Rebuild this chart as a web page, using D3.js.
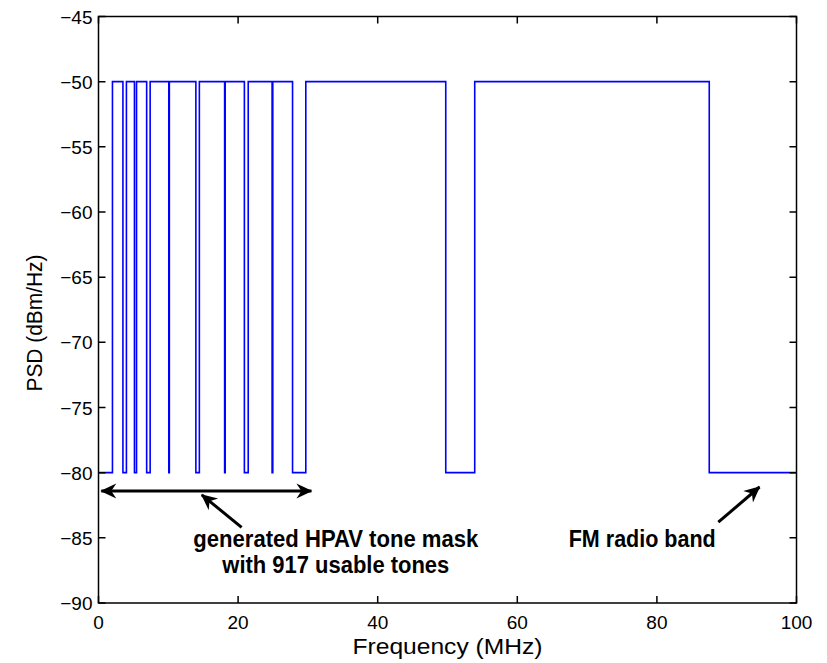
<!DOCTYPE html>
<html>
<head>
<meta charset="utf-8">
<script src="https://cdn.jsdelivr.net/npm/d3@7"></script>
<style>
  body { margin: 0; background: #fff; }
  text { font-family: "Liberation Sans", Arial, Helvetica, sans-serif; }
</style>
</head>
<body>
<div id="chart"></div>
<script>
var width = 827;
var height = 663;

// step edges of the PSD mask (MHz) and the level of each segment (dBm/Hz)
var freqEdges = [0, 2.0, 3.5, 4.0, 5.15, 5.45, 6.9, 7.4, 10.07, 10.15, 13.95, 14.45,
    18.07, 18.15, 20.9, 21.45, 24.87, 24.97, 27.8, 29.7, 49.75, 53.9, 87.5, 100];
var psdLevels = [-80, -50, -80, -50, -80, -50, -80, -50, -80, -50, -80, -50,
    -80, -50, -80, -50, -80, -50, -80, -50, -80, -50, -80];

var xTicks = [0, 20, 40, 60, 80, 100];
var yTicks = [-45, -50, -55, -60, -65, -70, -75, -80, -85, -90];

// annotations, in data units
var spanArrow = { x1: 0.4, x2: 30.5, y: -81.4 };
var hpavArrow = { x1: 20.5, y1: -84.2, x2: 14.8, y2: -81.7 };
var fmArrow = { x1: 88.8, y1: -83.8, x2: 94.7, y2: -81.1 };
var hpavText = ["generated HPAV tone mask", "with 917 usable tones"];
var hpavTextPos = { x: 34.0, y: [-85.7, -87.7] };
var fmText = "FM radio band";
var fmTextPos = { x: 77.9, y: -85.7 };

var margin = { left: 98.5, right: 30.5, top: 16.5, bottom: 60 };

var x = d3.scaleLinear().domain([0, 100]).range([margin.left, width - margin.right]);
var y = d3.scaleLinear().domain([-90, -45]).range([height - margin.bottom, margin.top]);

var svg = d3.select("#chart").append("svg")
    .attr("width", width)
    .attr("height", height);

// arrow head
var defs = svg.append("defs");
defs.append("marker")
    .attr("id", "head")
    .attr("viewBox", "-16 -8 18 16")
    .attr("refX", 0)
    .attr("refY", 0)
    .attr("markerWidth", 18)
    .attr("markerHeight", 16)
    .attr("markerUnits", "userSpaceOnUse")
    .attr("orient", "auto-start-reverse")
    .append("path")
    .attr("d", "M1,0 L-15,-7.5 L-10,0 L-15,7.5 Z")
    .attr("fill", "black");

// mask line
var pts = psdLevels.map((v, i) => [freqEdges[i], v]);
pts.push([freqEdges[freqEdges.length - 1], psdLevels[psdLevels.length - 1]]);

var line = d3.line()
    .x(d => x(d[0]))
    .y(d => y(d[1]))
    .curve(d3.curveStepAfter);

svg.append("path")
    .datum(pts)
    .attr("d", line)
    .attr("fill", "none")
    .attr("stroke", "#0000ff")
    .attr("stroke-width", 1.6);

// axes box, matlab style, ticks inside
var tickLen = 7;
var axisG = svg.append("g").attr("stroke", "black").attr("stroke-width", 1.5);

axisG.append("rect")
    .attr("x", x(0))
    .attr("y", y(-45))
    .attr("width", x(100) - x(0))
    .attr("height", y(-90) - y(-45))
    .attr("fill", "none");

axisG.selectAll(".xt")
    .data(xTicks)
    .join("path")
    .attr("d", d => `M${x(d)},${y(-90)}v${-tickLen}M${x(d)},${y(-45)}v${tickLen}`);

axisG.selectAll(".yt")
    .data(yTicks)
    .join("path")
    .attr("d", d => `M${x(0)},${y(d)}h${tickLen}M${x(100)},${y(d)}h${-tickLen}`);

var fmt = d => d < 0 ? "\u2212" + Math.abs(d) : String(d);

svg.append("g")
    .attr("font-size", 19)
    .selectAll("text")
    .data(yTicks)
    .join("text")
    .attr("x", x(0) - 6)
    .attr("y", d => y(d) + 7)
    .attr("text-anchor", "end")
    .text(fmt);

svg.append("g")
    .attr("font-size", 19)
    .selectAll("text")
    .data(xTicks)
    .join("text")
    .attr("x", d => x(d))
    .attr("y", y(-90) + 26)
    .attr("text-anchor", "middle")
    .text(fmt);

// axis labels
svg.append("text")
    .attr("x", (x(0) + x(100)) / 2)
    .attr("y", 654)
    .attr("text-anchor", "middle")
    .attr("font-size", 22)
    .attr("textLength", 190)
    .attr("lengthAdjust", "spacingAndGlyphs")
    .text("Frequency (MHz)");

svg.append("text")
    .attr("transform", "translate(42," + 323 + ") rotate(-90)")
    .attr("text-anchor", "middle")
    .attr("font-size", 22)
    .attr("textLength", 137)
    .attr("lengthAdjust", "spacingAndGlyphs")
    .text("PSD (dBm/Hz)");

// annotations
var ann = svg.append("g").attr("stroke", "black").attr("stroke-width", 3);

ann.append("line")
    .attr("x1", x(spanArrow.x1)).attr("y1", y(spanArrow.y))
    .attr("x2", x(spanArrow.x2)).attr("y2", y(spanArrow.y))
    .attr("marker-start", "url(#head)")
    .attr("marker-end", "url(#head)");

[hpavArrow, fmArrow].forEach(a => {
    ann.append("line")
        .attr("x1", x(a.x1)).attr("y1", y(a.y1))
        .attr("x2", x(a.x2)).attr("y2", y(a.y2))
        .attr("marker-end", "url(#head)");
});

var lblG = svg.append("g")
    .attr("font-family", "'Liberation Sans Narrow', 'Liberation Sans', Arial, sans-serif")
    .attr("font-weight", "bold")
    .attr("font-size", 23)
    .attr("text-anchor", "middle");

var hpavWidths = [285, 227];
hpavText.forEach((t, i) => {
    lblG.append("text")
        .attr("x", x(hpavTextPos.x))
        .attr("y", y(hpavTextPos.y[i]))
        .attr("textLength", hpavWidths[i])
        .attr("lengthAdjust", "spacingAndGlyphs")
        .text(t);
});

lblG.append("text")
    .attr("x", x(fmTextPos.x))
    .attr("y", y(fmTextPos.y))
    .attr("textLength", 147)
    .attr("lengthAdjust", "spacingAndGlyphs")
    .text(fmText);
</script>
</body>
</html>
